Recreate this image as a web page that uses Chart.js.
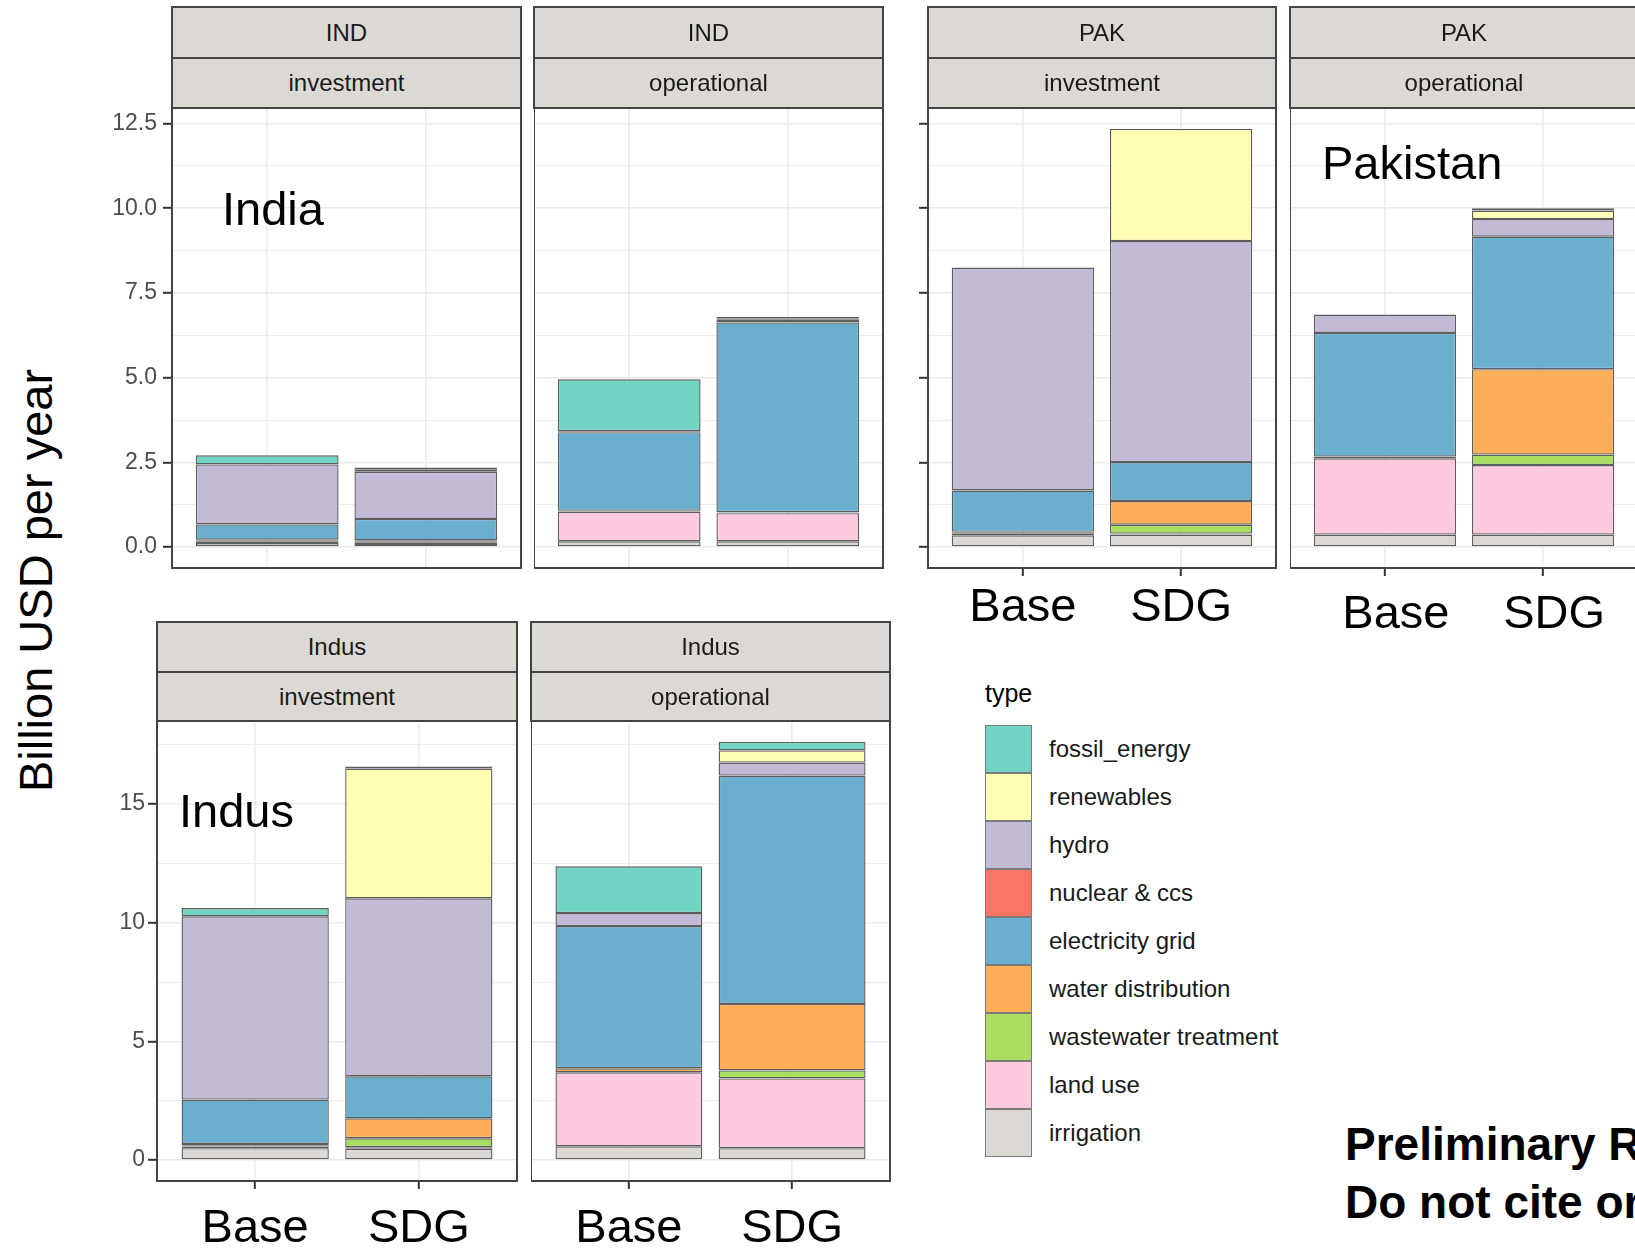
<!DOCTYPE html>
<html>
<head>
<meta charset="utf-8">
<title>Billion USD per year</title>
<script src="https://cdn.jsdelivr.net/npm/chart.js@4.4.1/dist/chart.umd.min.js"></script>
<style>
  html, body { margin: 0; padding: 0; width: 1635px; height: 1248px; overflow: hidden; background: #ffffff; }
  body { position: relative; font-family: "Liberation Sans", Arial, Helvetica, sans-serif; }
  .strip { position: absolute; box-sizing: border-box; background: #DCD9D4; border: 2px solid #444444; }
  .strip div { text-align: center; color: #1A1A1A; font-size: 24px; white-space: nowrap; overflow: hidden; }
  .strip .upper { border-bottom: 2px solid #444444; }
  .txt { position: absolute; white-space: nowrap; line-height: 1; color: #000000; }
  .key { position: absolute; box-sizing: border-box; border: 1.5px solid #7A7A7A; }
  .keylab { position: absolute; font-size: 24px; color: #1A1A1A; white-space: nowrap; }
</style>
</head>
<body>
<script>
// ---- categories ----
const types = ['fossil_energy', 'renewables', 'hydro', 'nuclear & ccs', 'electricity grid',
               'water distribution', 'wastewater treatment', 'land use', 'irrigation'];
const typeColors = ['#72D4C3', '#FFFFB3', '#C3BAD6', '#FB7564', '#6BAFCF',
                    '#FDAE57', '#A9DE63', '#FECAE0', '#DCD9D4'];
const scenarios = ['Base', 'SDG'];

// ---- values (billion USD per year), one entry per type in the order above ----
const IND_investment_Base  = [0.27, 0.00, 1.77, 0, 0.45, 0.03, 0.03, 0.04, 0.12];
const IND_investment_SDG   = [0.07, 0.06, 1.39, 0, 0.63, 0.03, 0.04, 0.04, 0.09];
const IND_operational_Base = [1.53, 0.00, 0.03, 0, 2.32, 0.00, 0.02, 0.88, 0.17];
const IND_operational_SDG  = [0.04, 0.04, 0.08, 0, 5.60, 0.01, 0.02, 0.83, 0.17];
const PAK_investment_Base  = [0.00, 0.00, 6.58, 0, 1.22, 0.03, 0.03, 0.04, 0.35];
const PAK_investment_SDG   = [0.00, 3.31, 6.52, 0, 1.15, 0.70, 0.26, 0.03, 0.37];
const PAK_operational_Base = [0.00, 0.00, 0.54, 0, 3.65, 0.05, 0.00, 2.25, 0.37];
const PAK_operational_SDG  = [0.07, 0.25, 0.52, 0, 3.91, 2.52, 0.31, 2.05, 0.37];
const Indus_investment_Base  = [0.35, 0.00, 7.72, 0, 1.87, 0.05, 0.06, 0.07, 0.50];
const Indus_investment_SDG   = [0.08, 5.47, 7.50, 0, 1.77, 0.84, 0.38, 0.06, 0.48];
const Indus_operational_Base = [1.97, 0.00, 0.55, 0, 5.99, 0.17, 0.00, 3.12, 0.58];
const Indus_operational_SDG  = [0.36, 0.51, 0.55, 0, 9.62, 2.80, 0.34, 2.94, 0.50];

// ---- y tick labels per row ----
const countryTicks = [0, 2.5, 5, 7.5, 10, 12.5];
const basinTicks = [0, 5, 10, 15];

const FONT = "'Liberation Sans', Arial, Helvetica, sans-serif";
const sum = a => a.reduce((s, v) => s + v, 0);

function makeRow(cfg, panels) {
  const top = Math.max(...panels.flatMap(p => [sum(p.base), sum(p.sdg)]));
  const min = -0.05 * top, max = 1.05 * top;
  const step = cfg.major[1] - cfg.major[0];
  const minor = cfg.major.map(v => v + step / 2).filter(v => v < max);
  const all = [...cfg.major, ...minor].sort((a, b) => a - b);
  return Object.assign({}, cfg, { min, max, all, panels });
}

const rows = [
  makeRow({ T: 108, B: 568, stripTop: 6, h1: 49, h2: 48, axisH: 90, labelPad: 6,
            major: countryTicks, fmt: v => v.toFixed(1) }, [
    { L: 172, R: 521, yLabels: true, yTicks: true, xAxis: false, base: IND_investment_Base, sdg: IND_investment_SDG, s1: 'IND', s2: 'investment' },
    { L: 534, R: 883, yLabels: false, yTicks: false, xAxis: false, base: IND_operational_Base, sdg: IND_operational_SDG, s1: 'IND', s2: 'operational' },
    { L: 928, R: 1276, yLabels: false, yTicks: true, xAxis: true, xPad: 9, xOff: 0, base: PAK_investment_Base, sdg: PAK_investment_SDG, s1: 'PAK', s2: 'investment' },
    { L: 1290, R: 1638, yLabels: false, yTicks: false, xAxis: true, xPad: 16, xOff: 11, base: PAK_operational_Base, sdg: PAK_operational_SDG, s1: 'PAK', s2: 'operational' }
  ]),
  makeRow({ T: 721, B: 1181, stripTop: 621, h1: 48, h2: 47, axisH: 67, labelPad: 3,
            major: basinTicks, fmt: v => String(v) }, [
    { L: 157, R: 517, yLabels: true, yTicks: true, xAxis: true, xPad: 17, xOff: 0, base: Indus_investment_Base, sdg: Indus_investment_SDG, s1: 'Indus', s2: 'investment' },
    { L: 531, R: 890, yLabels: false, yTicks: false, xAxis: true, xPad: 17, xOff: 0, base: Indus_operational_Base, sdg: Indus_operational_SDG, s1: 'Indus', s2: 'operational' }
  ])
];

// frame around each panel's plotting area
const panelBorder = {
  id: 'panelBorder',
  afterDatasetsDraw(chart) {
    const { ctx, chartArea: a } = chart;
    ctx.save();
    ctx.strokeStyle = '#444444';
    ctx.lineWidth = 2;
    ctx.strokeRect(a.left, a.top, a.right - a.left, a.bottom - a.top);
    ctx.restore();
  }
};

function drawPanel(p, row) {
  const isMajor = v => row.major.some(m => Math.abs(m - v) < 1e-9);
  const leftMargin = p.yLabels ? 80 : (p.yTicks ? 12 : 0);
  const padTop = 30, padRight = 4;
  const xAxisH = p.xAxis ? row.axisH : 0;
  const padBottom = p.xAxis ? 0 : 30;
  const w = leftMargin + (p.R - p.L) + padRight;
  const h = padTop + (row.B - row.T) + xAxisH + padBottom;
  const cv = document.createElement('canvas');
  cv.width = w; cv.height = h;
  cv.style.cssText = `position:absolute;left:${p.L - leftMargin}px;top:${row.T - padTop}px;width:${w}px;height:${h}px;`;
  document.body.appendChild(cv);

  // ggplot stacks the first type on top, so the last type goes in first (bottom)
  const order = types.map((_, i) => i).reverse();
  const datasets = order.map(i => ({
    label: types[i],
    stack: 'all',
    data: scenarios.map((s, k) => ({ x: k + 1, y: (k === 0 ? p.base : p.sdg)[i] })),
    backgroundColor: typeColors[i],
    borderColor: '#5E5E5E',
    borderWidth: 1.4,
    borderSkipped: false,
    categoryPercentage: 1,
    barPercentage: 0.9
  }));

  new Chart(cv, {
    type: 'bar',
    data: { datasets },
    options: {
      responsive: false,
      animation: false,
      devicePixelRatio: 1,
      layout: { padding: { top: padTop, right: padRight, bottom: padBottom, left: 0 } },
      plugins: { legend: { display: false }, tooltip: { enabled: false } },
      scales: {
        x: {
          type: 'linear', min: 0.4, max: 2.6, stacked: true, offset: false,
          afterBuildTicks: s => { s.ticks = scenarios.map((_, k) => ({ value: k + 1 })); },
          afterFit: s => { s.height = xAxisH; },
          border: { display: false },
          grid: { color: '#EBEBEB', lineWidth: 1.6, offset: false, drawTicks: p.xAxis,
                  tickLength: 8, tickWidth: 2, tickColor: '#333333' },
          ticks: { display: p.xAxis, autoSkip: false, maxRotation: 0, minRotation: 0,
                   padding: p.xPad || 0, labelOffset: p.xOff || 0, color: '#000000',
                   font: { family: FONT, size: 47, lineHeight: 1 },
                   callback: v => scenarios[Math.round(v) - 1] || '' }
        },
        y: {
          type: 'linear', stacked: true, min: row.min, max: row.max,
          afterBuildTicks: s => { s.ticks = row.all.map(v => ({ value: v })); },
          afterFit: s => { s.width = leftMargin; },
          border: { display: false },
          grid: {
            color: '#EBEBEB',
            lineWidth: c => (c.tick && isMajor(c.tick.value)) ? 1.6 : 0.9,
            drawTicks: p.yTicks, tickLength: 9, tickWidth: 2,
            tickColor: c => (c.tick && isMajor(c.tick.value)) ? '#333333' : 'rgba(0,0,0,0)'
          },
          ticks: { display: p.yLabels, autoSkip: false, padding: row.labelPad, color: '#4D4D4D',
                   font: { family: FONT, size: 23 },
                   callback: v => isMajor(v) ? row.fmt(v) : '' }
        }
      }
    },
    plugins: [panelBorder]
  });
}

function drawStrip(p, row) {
  const d = document.createElement('div');
  d.className = 'strip';
  d.style.left = (p.L - 1) + 'px';
  d.style.top = row.stripTop + 'px';
  d.style.width = (p.R - p.L + 2) + 'px';
  d.style.height = (row.h1 + row.h2 + 6) + 'px';
  const a = document.createElement('div');
  a.className = 'upper';
  a.style.height = row.h1 + 'px';
  a.style.lineHeight = row.h1 + 'px';
  a.textContent = p.s1;
  const b = document.createElement('div');
  b.style.height = row.h2 + 'px';
  b.style.lineHeight = row.h2 + 'px';
  b.textContent = p.s2;
  d.appendChild(a); d.appendChild(b);
  document.body.appendChild(d);
}

// text placed by its baseline
function text(str, x, baseline, size, weight) {
  const d = document.createElement('div');
  d.className = 'txt';
  d.style.left = x + 'px';
  d.style.top = (baseline - 0.8465 * size) + 'px';
  d.style.fontSize = size + 'px';
  if (weight) d.style.fontWeight = weight;
  d.textContent = str;
  document.body.appendChild(d);
  return d;
}

rows.forEach(row => row.panels.forEach(p => drawPanel(p, row)));
rows.forEach(row => row.panels.forEach(p => drawStrip(p, row)));

// axis title shared by both rows
const yt = document.createElement('div');
yt.className = 'txt';
yt.style.cssText += 'width:500px;height:47px;font-size:47px;text-align:center;left:' + (34.7 - 250) +
  'px;top:' + (580 - 23.5) + 'px;transform:rotate(-90deg);transform-origin:50% 50%;';
yt.textContent = 'Billion USD per year';
document.body.appendChild(yt);

// region labels
text('India', 222, 225, 47);
text('Pakistan', 1322, 179, 47);
text('Indus', 179, 827, 47);

// legend
text('type', 985, 702, 25);
types.forEach((t, i) => {
  const k = document.createElement('div');
  k.className = 'key';
  k.style.cssText += `left:985px;top:${725 + i * 48}px;width:47px;height:48px;background:${typeColors[i]};`;
  document.body.appendChild(k);
  const l = document.createElement('div');
  l.className = 'keylab';
  l.style.cssText += `left:1049px;top:${725 + i * 48}px;height:48px;line-height:48px;`;
  l.textContent = t;
  document.body.appendChild(l);
});

// note
text('Preliminary Results', 1345, 1159.5, 46, 'bold');
text('Do not cite or quote', 1345, 1218, 46, 'bold');
</script>
</body>
</html>
